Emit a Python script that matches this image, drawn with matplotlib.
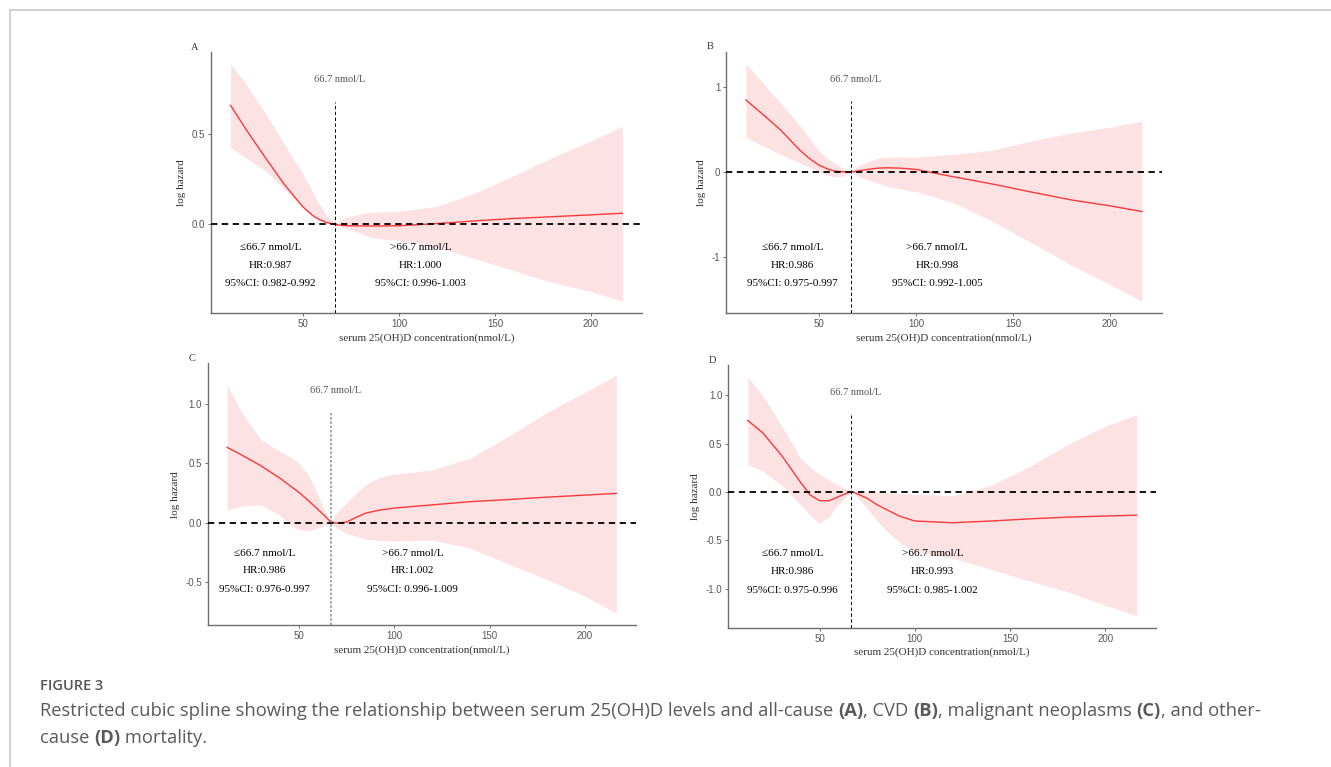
import matplotlib
matplotlib.use("Agg")
import matplotlib.pyplot as plt
from matplotlib.lines import Line2D

# serum 25(OH)D (nmol/L) at which each curve was read
x = [12.3, 20, 30, 40, 45, 50, 55, 58, 62, 66.7, 70, 75, 80, 85, 92, 100, 120, 140, 160, 180, 200, 216.4]

# A: all-cause
a_fit = [0.657, 0.53, 0.375, 0.225, 0.16, 0.097, 0.05, 0.03, 0.012, 0, -0.005, -0.007, -0.008, -0.008, -0.008, -0.007,
         0.005, 0.02, 0.033, 0.043, 0.053, 0.062]
a_hi = [0.886, 0.78, 0.62, 0.45, 0.36, 0.28, 0.18, 0.12, 0.055, 0, 0.025, 0.045, 0.058, 0.066, 0.07, 0.073,
        0.1, 0.175, 0.27, 0.37, 0.46, 0.542]
a_lo = [0.423, 0.37, 0.3, 0.2, 0.145, 0.095, 0.05, 0.025, 0.01, 0, -0.012, -0.03, -0.05, -0.07, -0.08, -0.088,
        -0.127, -0.19, -0.255, -0.32, -0.37, -0.423]

# B: CVD
b_fit = [0.85, 0.70, 0.50, 0.26, 0.16, 0.08, 0.03, 0.01, 0.003, 0, 0.012, 0.03, 0.045, 0.05, 0.045, 0.03,
         -0.06, -0.145, -0.24, -0.33, -0.40, -0.467]
b_hi = [1.28, 1.08, 0.82, 0.55, 0.40, 0.25, 0.15, 0.10, 0.05, 0, 0.07, 0.12, 0.16, 0.176, 0.178, 0.176,
        0.21, 0.26, 0.37, 0.46, 0.53, 0.6]
b_lo = [0.41, 0.32, 0.21, 0.11, 0.055, 0.0, -0.04, -0.06, -0.05, 0, -0.05, -0.09, -0.13, -0.17, -0.2, -0.23,
        -0.37, -0.59, -0.84, -1.1, -1.33, -1.525]

# C: malignant neoplasms
c_fit = [0.635, 0.57, 0.48, 0.375, 0.315, 0.255, 0.185, 0.14, 0.08, 0.005, -0.005, 0.005, 0.045, 0.08, 0.105, 0.123,
         0.15, 0.177, 0.195, 0.215, 0.232, 0.247]
c_hi = [1.16, 0.93, 0.70, 0.60, 0.56, 0.50, 0.40, 0.30, 0.15, 0, 0.09, 0.17, 0.25, 0.32, 0.38, 0.41,
        0.445, 0.545, 0.73, 0.93, 1.10, 1.244]
c_lo = [0.107, 0.14, 0.15, 0.06, -0.01, -0.06, -0.07, -0.055, -0.035, 0, -0.05, -0.09, -0.115, -0.14, -0.15, -0.157,
        -0.148, -0.217, -0.35, -0.48, -0.62, -0.764]

# D: other-cause
d_fit = [0.74, 0.615, 0.38, 0.10, -0.03, -0.09, -0.09, -0.065, -0.03, 0.005, -0.02, -0.066, -0.13, -0.18, -0.25, -0.30,
         -0.318, -0.30, -0.278, -0.26, -0.248, -0.24]
d_hi = [1.19, 1.0, 0.69, 0.35, 0.26, 0.18, 0.125, 0.085, 0.05, 0.01, 0.005, 0.0, -0.003, -0.005, -0.015, -0.025,
        -0.035, 0.07, 0.26, 0.49, 0.68, 0.80]
d_lo = [0.28, 0.22, 0.07, -0.13, -0.24, -0.325, -0.26, -0.17, -0.09, 0.01, -0.06, -0.17, -0.29, -0.40, -0.52, -0.62,
        -0.685, -0.80, -0.92, -1.03, -1.17, -1.28]

labels = ["A", "B", "C", "D"]
fits = [a_fit, b_fit, c_fit, d_fit]
his = [a_hi, b_hi, c_hi, d_hi]
los = [a_lo, b_lo, c_lo, d_lo]
yticks = [[0.0, 0.5], [-1, 0, 1], [-0.5, 0.0, 0.5, 1.0], [-1.0, -0.5, 0.0, 0.5, 1.0]]
yfmt = ["{:.1f}", "{:.0f}", "{:.1f}", "{:.1f}"]
hr_low = ["HR:0.987", "HR:0.986", "HR:0.986", "HR:0.986"]
ci_low = ["95%CI: 0.982-0.992", "95%CI: 0.975-0.997", "95%CI: 0.976-0.997", "95%CI: 0.975-0.996"]
hr_high = ["HR:1.000", "HR:0.998", "HR:1.002", "HR:0.993"]
ci_high = ["95%CI: 0.996-1.003", "95%CI: 0.992-1.005", "95%CI: 0.996-1.009", "95%CI: 0.985-1.002"]
cut = 66.7

# panel boxes in figure fractions
boxes = [[0.1585, 0.5919, 0.3238, 0.3403],
         [0.5455, 0.5919, 0.3273, 0.3407],
         [0.1560, 0.1851, 0.3216, 0.3412],
         [0.5472, 0.1816, 0.3213, 0.3425]]
left_x = [33, 36.3, 32, 35.9]
right_x = [111.4, 110.8, 109.6, 109.3]
text_y = [[0.252, 0.182, 0.112], [0.252, 0.183, 0.113], [0.275, 0.207, 0.137], [0.281, 0.213, 0.142]]

serif = "Liberation Serif"
fig = plt.figure(figsize=(13.31, 7.67), dpi=100)

for i in range(4):
    ax = fig.add_axes(boxes[i])
    ax.fill_between(x, los[i], his[i], color="#fde2e4", lw=0, zorder=1)
    ax.plot(x, fits[i], color="#ff3838", lw=1.0, zorder=3)
    lo, hi = min(los[i]), max(his[i])
    pad = (hi - lo) * 0.05
    ax.set_ylim(lo - pad, hi + pad)
    xpad = (x[-1] - x[0]) * 0.05
    ax.set_xlim(x[0] - xpad, x[-1] + xpad)
    ax.axhline(0, color="black", lw=1.3, dashes=(3.5, 2.5), zorder=4)
    if i == 2:
        ax.axvline(cut, ymax=0.81, color="#8a8a8a", lw=1.1, dashes=(1.6, 1.2), zorder=4)
    else:
        ax.axvline(cut, ymax=0.81, color="black", lw=0.7, dashes=(3.5, 2.5), zorder=4)
    ax.text(69, 0.895, "66.7 nmol/L", transform=ax.get_xaxis_transform(), ha="center", va="center",
            fontsize=7.5, family=serif, color="#555555")
    ty = text_y[i]
    for xx, lines in [(left_x[i], ["\u226466.7 nmol/L", hr_low[i], ci_low[i]]),
                      (right_x[i], [">66.7 nmol/L", hr_high[i], ci_high[i]])]:
        for s, yy in zip(lines, ty):
            ax.text(xx, yy, s, transform=ax.get_xaxis_transform(), ha="center", va="center",
                    fontsize=8, family=serif, color="black")
    ax.set_xticks([50, 100, 150, 200])
    ax.set_yticks(yticks[i])
    ax.set_yticklabels([yfmt[i].format(v) for v in yticks[i]])
    for sp in ["top", "right"]:
        ax.spines[sp].set_visible(False)
    for sp in ["left", "bottom"]:
        ax.spines[sp].set_color("#6e6e6e")
        ax.spines[sp].set_linewidth(1.0)
    ax.tick_params(length=2.2, width=0.7, color="#6e6e6e", labelsize=7, labelcolor="#555555", pad=2)
    for t in ax.get_xticklabels() + ax.get_yticklabels():
        t.set_family("Liberation Sans")
    ax.set_xlabel("serum 25(OH)D concentration(nmol/L)", fontsize=8, family=serif, color="#333333", labelpad=3)
    ax.set_ylabel("log hazard", fontsize=8, family=serif, color="#333333", labelpad=4)
    ax.text(-0.037, 1.018, labels[i], transform=ax.transAxes, ha="center", va="center",
            fontsize=7.5, family=serif, color="#333333")

# frame lines
fig.add_artist(Line2D([9.5 / 1331, 1], [1 - 9.5 / 767] * 2, color="#c8c8c8", lw=1.2))
fig.add_artist(Line2D([9.5 / 1331] * 2, [0, 1 - 9.5 / 767], color="#c8c8c8", lw=1.2))

# caption
cap = fig.add_axes([0, 0, 1, 1])
cap.axis("off")
cap.set_xlim(0, 1331)
cap.set_ylim(767, 0)
cfont = "Open Sans"
ccol = "#5a5a5a"
cap.text(40, 686, "FIGURE 3", fontsize=10.5, family=cfont, weight="semibold", color="#555555", va="center")

def caption_line(pieces, x0, y0):
    prev = None
    for s, bold in pieces:
        kw = dict(fontsize=13.2, family=cfont, color=ccol, weight="bold" if bold else "normal")
        if prev is None:
            prev = cap.text(x0, y0, s, va="center", **kw)
        else:
            prev = cap.annotate(s, xy=(1, 0), xycoords=prev, va="bottom", ha="left", **kw)

caption_line([("Restricted cubic spline showing the relationship between serum 25(OH)D levels and all-cause ", False),
              ("(A)", True), (", CVD ", False), ("(B)", True), (", malignant neoplasms ", False),
              ("(C)", True), (", and other-", False)], 40, 711)
caption_line([("cause ", False), ("(D)", True), (" mortality.", False)], 40, 738)

fig.savefig("out.png", dpi=100)
